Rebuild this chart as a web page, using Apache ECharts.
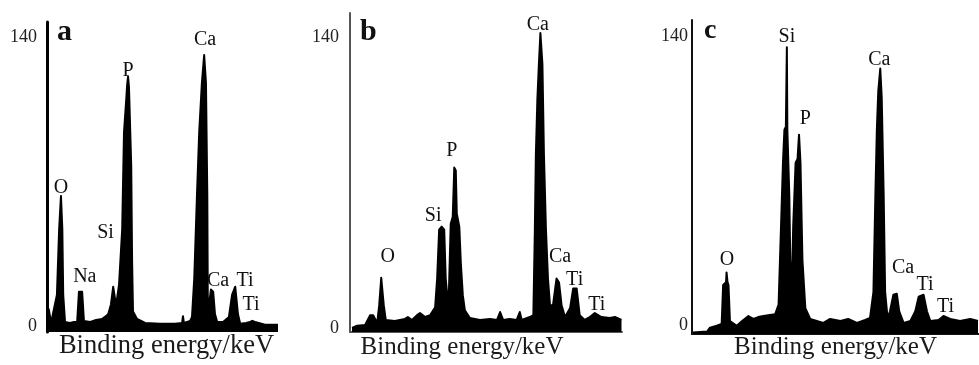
<!DOCTYPE html>
<html>
<head>
<meta charset="utf-8">
<script src="https://cdn.jsdelivr.net/npm/echarts@6/dist/echarts.min.js"></script>
<style>
  html, body { margin: 0; padding: 0; background: #fff; }
  #chart { width: 979px; height: 365px; }
</style>
</head>
<body>
<div id="chart"></div>
<script>
// spectrum a
const energyA = [0, 0.04, 0.09, 0.13, 0.22, 0.27, 0.31, 0.34, 0.36, 0.40, 0.51, 0.60, 0.67, 0.71, 0.78, 0.82, 0.96, 1.09, 1.22, 1.31, 1.36, 1.42, 1.47, 1.51, 1.53, 1.56, 1.60, 1.67, 1.71, 1.76, 1.78, 1.80, 1.82, 1.87, 1.89, 1.91, 2.00, 2.18, 2.51, 2.84, 3.00, 3.02, 3.04, 3.18, 3.22, 3.27, 3.33, 3.38, 3.44, 3.49, 3.53, 3.56, 3.57, 3.58, 3.60, 3.64, 3.69, 3.73, 3.78, 3.91, 4.04, 4.11, 4.18, 4.22, 4.24, 4.29, 4.42, 4.51, 4.56, 4.62, 4.84, 5.13];
const countsA = [1, 8, 1.4, 1.4, 15, 47, 63, 47, 15, 1.9, 1.4, 1.9, 1.9, 16.6, 16.6, 2.4, 1.9, 2.8, 3.3, 4.7, 5.7, 10.4, 19, 19, 10.4, 13.8, 20, 47, 94, 110, 117, 121, 116, 78, 31, 7, 3.3, 1.4, 1, 1, 1.4, 4.7, 1.4, 2.4, 4.3, 23, 63, 94, 118, 131.5, 118, 63, 15, 5.7, 10.4, 17.6, 16.6, 5.7, 1.9, 1.9, 4.3, 15, 19, 18.5, 5.7, 1, 1.4, 1.9, 2.4, 1.9, 0.5, 0.5];

// spectrum b
const energyB = [0.04, 0.14, 0.30, 0.40, 0.46, 0.54, 0.58, 0.62, 0.65, 0.67, 0.71, 0.89, 1.09, 1.15, 1.23, 1.33, 1.39, 1.49, 1.59, 1.69, 1.73, 1.77, 1.82, 1.87, 1.90, 1.94, 1.96, 2.00, 2.04, 2.07, 2.10, 2.12, 2.17, 2.20, 2.24, 2.28, 2.38, 2.58, 2.78, 2.92, 2.98, 3.04, 3.17, 3.31, 3.37, 3.41, 3.57, 3.64, 3.67, 3.69, 3.72, 3.75, 3.78, 3.82, 3.85, 3.89, 3.93, 3.97, 4.03, 4.10, 4.15, 4.20, 4.27, 4.37, 4.43, 4.50, 4.56, 4.66, 4.76, 4.86, 4.99, 5.16, 5.26, 5.39];
const countsB = [0, 1, 1.4, 6.1, 6.1, 2.4, 10.9, 24.1, 23.2, 10.9, 3.8, 3.3, 4.3, 5.2, 3.8, 6.1, 7.1, 5.2, 6.1, 9.9, 23.7, 47.3, 48.7, 47.3, 23.7, 13.2, 14.2, 50.1, 53.5, 77.1, 75.7, 54.9, 48.7, 31.2, 15.6, 8.5, 4.7, 3.8, 4.3, 3.8, 7.6, 3.8, 4.3, 3.8, 7.6, 3.8, 5.2, 6.1, 47.3, 83.3, 110, 126.8, 141.9, 126.8, 83.3, 47.3, 23.7, 10.9, 10.9, 23.7, 21.8, 10.9, 5.2, 9.5, 18.9, 18.9, 6.1, 3.8, 5.2, 7.1, 5.2, 4.7, 5.2, 3.8];

// spectrum c
const energyC = [0.02, 0.31, 0.37, 0.51, 0.61, 0.64, 0.70, 0.71, 0.73, 0.75, 0.78, 0.92, 1.03, 1.16, 1.26, 1.36, 1.47, 1.60, 1.71, 1.78, 1.83, 1.87, 1.90, 1.93, 1.95, 1.96, 2.00, 2.02, 2.05, 2.08, 2.13, 2.17, 2.20, 2.23, 2.27, 2.33, 2.43, 2.70, 2.84, 3.05, 3.21, 3.39, 3.56, 3.66, 3.73, 3.77, 3.80, 3.83, 3.87, 3.90, 3.94, 3.97, 4.02, 4.07, 4.14, 4.21, 4.26, 4.35, 4.49, 4.59, 4.66, 4.76, 4.83, 4.90, 5.07, 5.17, 5.31, 5.51, 5.72, 5.88];
const countsC = [-3.3, -2.8, -0.9, 0, 0.9, 19.7, 21.1, 25.8, 21.1, 19.7, 2.3, 0, 2.3, 4.7, 3.3, 4.2, 4.7, 5.2, 5.6, 10.3, 47.9, 78.9, 94.9, 96.3, 134.8, 94.9, 63.4, 31.9, 15, 47.9, 78.9, 80.8, 92.5, 78.9, 31.9, 8.5, 3.3, 1.4, 3.3, 2.3, 3.3, 1.4, 2.8, 3.8, 16.4, 63.4, 94.9, 113.7, 124.5, 110.4, 63.4, 16.4, 3.8, 7, 15, 15.5, 7, 1.4, 2.3, 7, 14.1, 15, 7, 2.3, 2.8, 4.7, 3.3, 2.3, 3.3, 2.3];

// peak labels: [element, energy, label height]
const peaksA = [['O', 0.31, 67], ['Na', 0.84, 24], ['Si', 1.30, 45], ['P', 1.80, 124], ['Ca', 3.51, 139], ['Ca', 3.80, 22], ['Ti', 4.40, 22], ['Ti', 4.53, 10]];
const peaksB = [['O', 0.75, 34], ['Si', 1.65, 54], ['P', 2.02, 85], ['Ca', 3.73, 146], ['Ca', 4.17, 34], ['Ti', 4.46, 23], ['Ti', 4.90, 11]];
const peaksC = [['O', 0.72, 32], ['Si', 1.95, 140], ['P', 2.33, 100], ['Ca', 3.85, 129], ['Ca', 4.34, 28], ['Ti', 4.79, 20], ['Ti', 5.21, 9]];

const panelLetters = ['a', 'b', 'c'];
const yTicks = [0, 140];
const xName = 'Binding energy/keV';

const serif = '"Liberation Serif", "DejaVu Serif", serif';

const panels = [
  { energy: energyA, counts: countsA, peaks: peaksA, grid: { left: 47, top: 22, width: 231, height: 317 }, yMin: -3, yMax: 147.5, xMax: 5.13, axisColor: '#000', axisWidth: 3, xLine: false, labelMargin: 10, nameGap: 1, nameSize: 26.5, namePad: [0, 0, 0, 8], letterLeft: 52, letterSize: 30 },
  { energy: energyB, counts: countsB, peaks: peaksB, grid: { left: 350, top: 13, width: 272, height: 324 }, yMin: -2, yMax: 151.5, xMax: 5.4, axisColor: '#555', axisWidth: 2, xLine: true, labelMargin: 11, nameGap: 3, nameSize: 25, namePad: [0, 48, 0, 0], letterLeft: 355, letterSize: 30 },
  { energy: energyC, counts: countsC, peaks: peaksC, grid: { left: 692, top: 20, width: 287, height: 323 }, yMin: -4, yMax: 148, xMax: 5.9, axisColor: '#111', axisWidth: 2, xLine: true, labelMargin: 4, nameGap: 1, nameSize: 25, namePad: [0, 0, 0, 0], letterLeft: 699, letterSize: 28 }
];

const chart = echarts.init(document.getElementById('chart'), null, { renderer: 'canvas' });

const option = {
  animation: false,
  backgroundColor: '#fff',
  title: panels.map((p, i) => ({
    text: panelLetters[i],
    left: p.letterLeft,
    top: 12,
    textStyle: { fontFamily: serif, fontWeight: 'bold', fontSize: p.letterSize, color: '#111' }
  })),
  grid: panels.map(p => p.grid),
  xAxis: panels.map((p, i) => ({
    type: 'value',
    gridIndex: i,
    min: 0,
    max: p.xMax,
    name: xName,
    nameLocation: 'middle',
    nameGap: p.nameGap,
    nameTextStyle: { fontFamily: serif, fontSize: p.nameSize, color: '#1a1a1a', verticalAlign: 'top', padding: p.namePad },
    axisLine: { show: p.xLine, onZero: false, lineStyle: { color: p.axisColor, width: 2 } },
    axisTick: { show: false },
    axisLabel: { show: false },
    splitLine: { show: false }
  })),
  yAxis: panels.map((p, i) => ({
    type: 'value',
    gridIndex: i,
    min: p.yMin,
    max: p.yMax,
    axisLine: { show: true, onZero: false, lineStyle: { color: p.axisColor, width: p.axisWidth } },
    axisTick: { show: false },
    axisLabel: {
      customValues: yTicks,
      margin: p.labelMargin,
      fontFamily: serif,
      fontSize: 18,
      color: '#222'
    },
    splitLine: { show: false }
  })),
  series: panels.map((p, i) => ({
    type: 'line',
    xAxisIndex: i,
    yAxisIndex: i,
    symbol: 'none',
    silent: true,
    lineStyle: { color: '#000', width: 2, join: 'round' },
    areaStyle: { color: '#000', opacity: 1, origin: 'start' },
    data: p.energy.map((e, k) => [e, p.counts[k]]),
    markPoint: {
      symbol: 'circle',
      symbolSize: 1,
      silent: true,
      itemStyle: { color: 'rgba(0,0,0,0)' },
      label: {
        show: true,
        position: 'inside',
        formatter: '{b}',
        fontFamily: serif,
        fontSize: 20,
        color: '#111'
      },
      data: p.peaks.map(pk => ({ name: pk[0], coord: [pk[1], pk[2]] }))
    }
  }))
};

chart.setOption(option);
</script>
</body>
</html>
